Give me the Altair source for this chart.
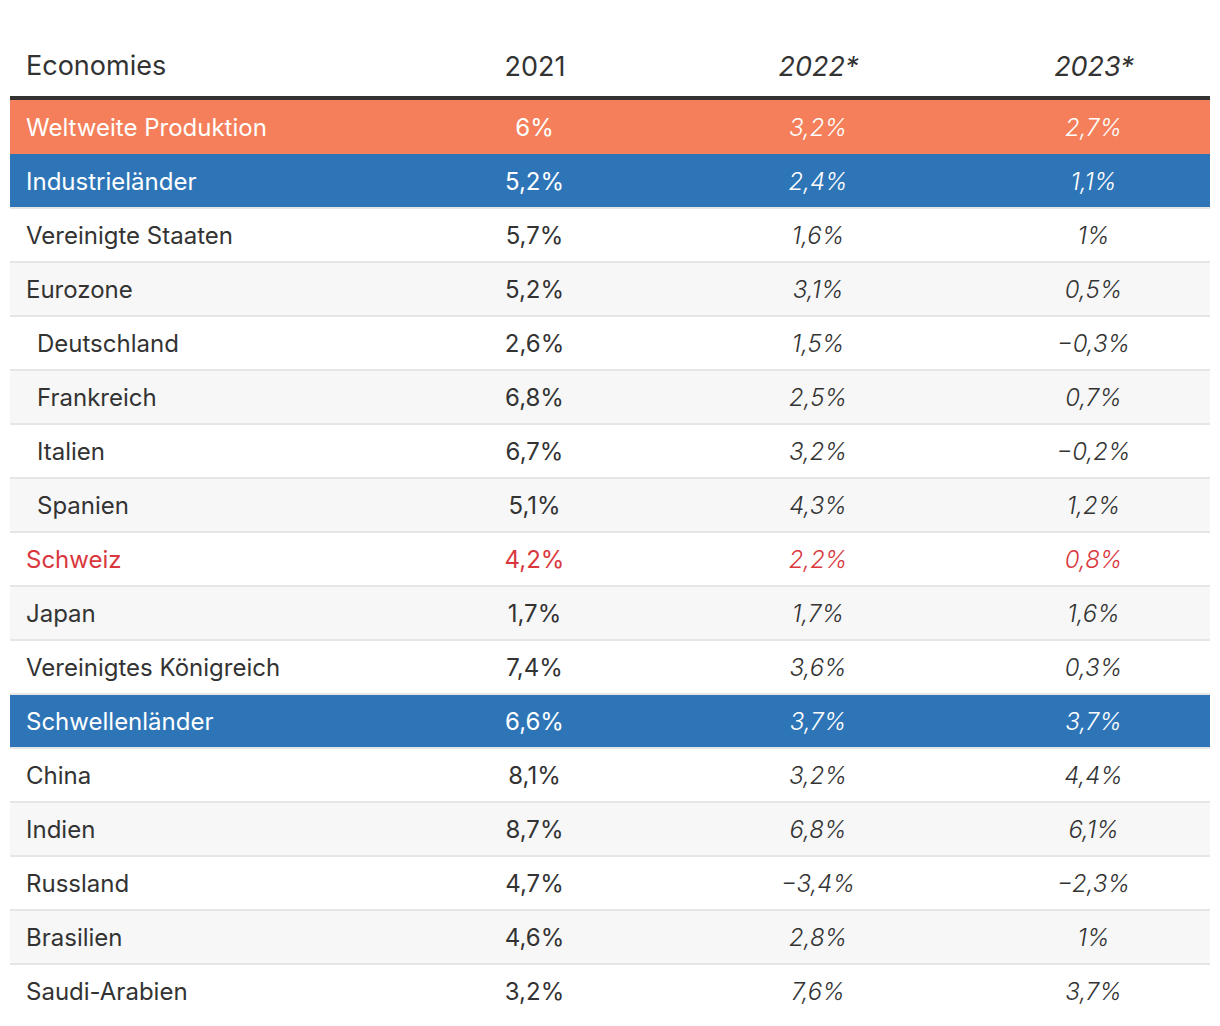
import altair as alt
import pandas as pd

labels = ["Weltweite Produktion", "Industrieländer", "Vereinigte Staaten", "Eurozone",
          "Deutschland", "Frankreich", "Italien", "Spanien", "Schweiz", "Japan",
          "Vereinigtes Königreich", "Schwellenländer", "China", "Indien", "Russland",
          "Brasilien", "Saudi-Arabien"]
kinds = ["world", "group", "country", "country", "sub", "sub", "sub", "sub", "highlight",
         "country", "country", "group", "country", "country", "country", "country", "country"]
v2021 = [6, 5.2, 5.7, 5.2, 2.6, 6.8, 6.7, 5.1, 4.2, 1.7, 7.4, 6.6, 8.1, 8.7, 4.7, 4.6, 3.2]
v2022 = [3.2, 2.4, 1.6, 3.1, 1.5, 2.5, 3.2, 4.3, 2.2, 1.7, 3.6, 3.7, 3.2, 6.8, -3.4, 2.8, 7.6]
v2023 = [2.7, 1.1, 1, 0.5, -0.3, 0.7, -0.2, 1.2, 0.8, 1.6, 0.3, 3.7, 4.4, 6.1, -2.3, 1, 3.7]
columns = ["2021", "2022*", "2023*"]
first_header = "Economies"

FONT = "Inter"
BODY = 24
HEAD = 27
W, H = 1200, 17 * 54


def fmt(v):
    s = f"{abs(v):g}".replace(".", ",") + "%"
    return ("\u2212" if v < 0 else "") + s


rows = []
for i, (lab, k) in enumerate(zip(labels, kinds)):
    band = k if k in ("world", "group") else ("odd" if i % 2 else "even")
    rows.append({"label": lab, "idx": i, "kind": k, "band": band})
rows_df = pd.DataFrame(rows)

cells = []
for i, lab in enumerate(labels):
    for ci, (col, vals) in enumerate(zip(columns, [v2021, v2022, v2023])):
        cells.append({"label": lab, "idx": i, "kind": kinds[i], "col": col, "ci": ci,
                      "text": fmt(vals[i])})
cells_df = pd.DataFrame(cells)

y_scale = alt.Scale(domain=labels, paddingInner=0, paddingOuter=0)


def yenc(**kw):
    return alt.Y("label:N", sort=labels, scale=y_scale, axis=None, **kw)


fill_scale = alt.Scale(domain=["world", "group", "even", "odd"],
                       range=["#f47f5a", "#2e75b8", "#ffffff", "#f7f7f7"])
text_scale = alt.Scale(domain=["world", "group", "country", "sub", "highlight"],
                       range=["#ffffff", "#ffffff", "#333333", "#333333", "#d9373e"])

bg = alt.Chart(rows_df).mark_rect(strokeWidth=0).encode(
    y=yenc(),
    x=alt.value(0), x2=alt.value(W),
    color=alt.Color("band:N", scale=fill_scale, legend=None),
)

seps = alt.Chart(rows_df).transform_filter("datum.idx >= 2").mark_rule(
    color="#e6e6e6", strokeWidth=2
).encode(
    y=yenc(bandPosition=0),
    x=alt.value(0), x2=alt.value(W),
)

top_line = alt.Chart(rows_df).transform_filter("datum.idx == 0").mark_rule(
    color="#333333", strokeWidth=4
).encode(
    y=alt.value(-2), x=alt.value(0), x2=alt.value(W),
)

head_first = alt.Chart(pd.DataFrame({"h": [first_header]})).mark_text(
    align="left", baseline="middle", font=FONT, fontSize=HEAD, color="#333333"
).encode(
    x=alt.value(16), y=alt.value(-33), text="h:N",
)

lab_plain = alt.Chart(rows_df).transform_filter("datum.kind != 'sub'").mark_text(
    align="left", baseline="middle", font=FONT, fontSize=BODY, dy=1.5
).encode(
    y=yenc(),
    x=alt.value(16),
    text="label:N",
    color=alt.Color("kind:N", scale=text_scale, legend=None),
)
lab_sub = alt.Chart(rows_df).transform_filter("datum.kind == 'sub'").mark_text(
    align="left", baseline="middle", font=FONT, fontSize=BODY, dy=1.5
).encode(
    y=yenc(),
    x=alt.value(27),
    text="label:N",
    color=alt.Color("kind:N", scale=text_scale, legend=None),
)

label_expr = "[" + ",".join(f"'{c}'" for c in columns) + "][datum.value]"
x_enc = alt.X(
    "ci:Q",
    scale=alt.Scale(domain=[0, 1, 2], range=[524.5, 808, 1083.5]),
    axis=alt.Axis(orient="top", title=None, ticks=False, domain=False, grid=False,
                  values=[0, 1, 2], labelExpr=label_expr,
                  labelAngle=0, labelBaseline="middle", labelAlign="center",
                  labelPadding=33, labelFlush=False,
                  labelFontSize=HEAD, labelColor="#333333", labelFont=FONT,
                  labelFontStyle={"condition": {"test": "datum.value > 0", "value": "italic"},
                                  "value": "normal"}),
)

vals_2021 = alt.Chart(cells_df).transform_filter("datum.ci == 0").mark_text(
    align="center", baseline="middle", font=FONT, fontSize=BODY, dy=1.5
).encode(
    y=yenc(),
    x=x_enc,
    text="text:N",
    color=alt.Color("kind:N", scale=text_scale, legend=None),
)
vals_fc = alt.Chart(cells_df).transform_filter("datum.ci > 0").mark_text(
    align="center", baseline="middle", font=FONT, fontSize=BODY, dy=1.5,
    fontStyle="italic", fontWeight=300
).encode(
    y=yenc(),
    x=x_enc,
    text="text:N",
    color=alt.Color("kind:N", scale=text_scale, legend=None),
)

chart = alt.layer(bg, seps, top_line, head_first, lab_plain, lab_sub, vals_2021, vals_fc).resolve_scale(
    color="independent"
).properties(
    width=W, height=H,
    autosize=alt.AutoSizeParams(type="none"),
    padding={"left": 2, "top": 92, "right": 0, "bottom": 0},
).configure_view(stroke=None)

chart.save("out.html", embed_options={"renderer": "svg", "actions": False})
